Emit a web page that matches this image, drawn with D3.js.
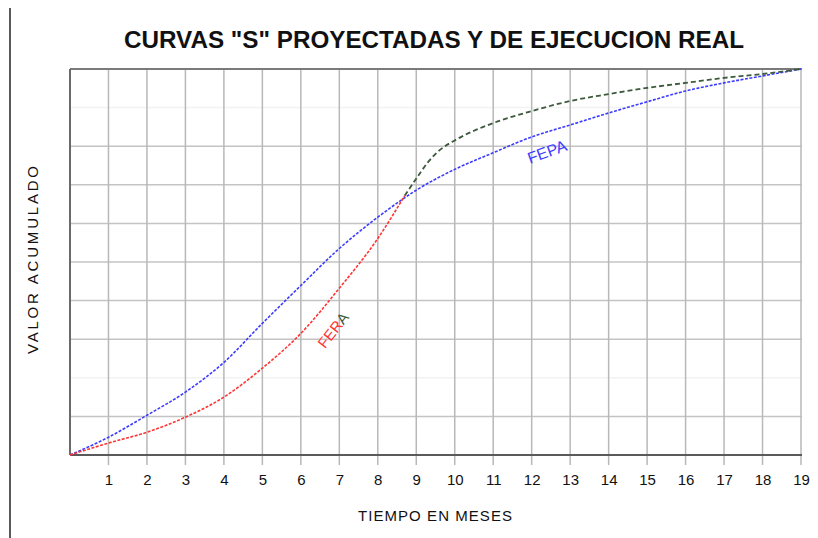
<!DOCTYPE html>
<html>
<head>
<meta charset="utf-8">
<script src="https://cdn.jsdelivr.net/npm/d3@7/dist/d3.min.js"></script>
<style>
  html, body { margin: 0; padding: 0; background: #fff; }
  svg { display: block; font-family: "Liberation Sans", Arial, sans-serif; }
</style>
</head>
<body>
<div id="chart"></div>
<script>
// Months on the x axis
const months = d3.range(0, 20);

// FEPA: projected S-curve (% of accumulated value)
const fepaMonths = [0, 1, 2, 3, 4, 5, 6, 7, 8, 9, 10, 11, 12, 13, 14, 15, 16, 17, 18, 19];
const fepaValues = [0, 4.6, 10.3, 16.3, 24.0, 34.1, 43.9, 53.5, 61.6, 68.6, 74.0, 78.3, 82.4, 85.5, 88.6, 91.5, 94.3, 96.4, 98.2, 100];

// FERA: real execution up to the cut
const feraMonths = [0, 1, 2, 3, 4, 5, 6, 7, 8, 8.7];
const feraValues = [0, 3.1, 5.9, 9.8, 15.0, 22.5, 31.5, 43.2, 56.1, 67.2];

// Re-projected continuation after the cut
const reprogMonths = [8.7, 9, 9.3, 9.6, 10, 10.5, 11, 12, 13, 14, 15, 16, 17, 18, 19];
const reprogValues = [67.2, 71.6, 75.8, 78.9, 81.5, 84.0, 86.0, 89.1, 91.7, 93.5, 95.1, 96.4, 97.7, 98.7, 100];

// Horizontal grid levels (no labels on the y axis)
const yGrid = [10, 20, 30, 40, 50, 60, 70, 80, 90];
const faintLevels = [20, 90];

const width = 818, height = 538;
const margin = { top: 69, right: 17, bottom: 83, left: 70 };

const svg = d3.select('#chart')
    .append('svg')
    .attr('width', width)
    .attr('height', height);

const x = d3.scaleLinear().domain([0, 19]).range([margin.left, width - margin.right]);
const y = d3.scaleLinear().domain([0, 100]).range([height - margin.bottom, margin.top]);

// Left page border
svg.append('line')
    .attr('x1', 10).attr('x2', 10)
    .attr('y1', 8).attr('y2', height)
    .attr('stroke', '#222')
    .attr('stroke-width', 1.5);

// Title
svg.append('text')
    .attr('x', 434)
    .attr('y', 48)
    .attr('text-anchor', 'middle')
    .attr('font-size', 24)
    .attr('font-weight', 'bold')
    .attr('textLength', 620)
    .attr('lengthAdjust', 'spacingAndGlyphs')
    .attr('fill', '#111')
    .text('CURVAS "S" PROYECTADAS Y DE EJECUCION REAL');

// Horizontal gridlines
svg.append('g')
    .selectAll('line')
    .data(yGrid)
    .join('line')
    .attr('x1', x(0)).attr('x2', x(19) + 1)
    .attr('y1', d => y(d)).attr('y2', d => y(d))
    .attr('stroke', d => faintLevels.includes(d) ? '#f2f2f2' : '#c4c4c4')
    .attr('stroke-width', 1.5);

// Vertical gridlines with tick extension
svg.append('g')
    .selectAll('line')
    .data(months.filter(m => m > 0))
    .join('line')
    .attr('x1', d => x(d)).attr('x2', d => x(d))
    .attr('y1', y(100)).attr('y2', y(0) + 10)
    .attr('stroke', '#b8b8b8')
    .attr('stroke-width', 1.5);

// Frame: top, left and bottom
svg.append('line')
    .attr('x1', x(0)).attr('x2', x(19) + 1)
    .attr('y1', y(100)).attr('y2', y(100))
    .attr('stroke', '#7a7a7a').attr('stroke-width', 2);
svg.append('line')
    .attr('x1', x(0)).attr('x2', x(0))
    .attr('y1', y(100)).attr('y2', y(0))
    .attr('stroke', '#6a6a6a').attr('stroke-width', 2);
svg.append('line')
    .attr('x1', x(0)).attr('x2', x(19) + 1)
    .attr('y1', y(0)).attr('y2', y(0))
    .attr('stroke', '#5a5a5a').attr('stroke-width', 2);

// Tick labels
const xAxis = d3.axisBottom(x)
    .tickValues(months.filter(m => m > 0))
    .tickSize(0)
    .tickPadding(0)
    .tickFormat(d3.format('d'));

const axisG = svg.append('g')
    .attr('transform', `translate(0,${y(0) + 30})`)
    .call(xAxis);
axisG.select('.domain').remove();
axisG.selectAll('text')
    .attr('dy', 0)
    .attr('font-size', 15)
    .attr('font-family', '"Liberation Sans", Arial, sans-serif')
    .attr('fill', '#111');

// Axis titles
svg.append('text')
    .attr('x', 435)
    .attr('y', 521)
    .attr('text-anchor', 'middle')
    .attr('font-size', 15)
    .attr('textLength', 154)
    .attr('lengthAdjust', 'spacing')
    .attr('fill', '#111')
    .text('TIEMPO EN MESES');

svg.append('text')
    .attr('transform', 'translate(38,260) rotate(-90)')
    .attr('text-anchor', 'middle')
    .attr('font-size', 15)
    .attr('textLength', 188)
    .attr('lengthAdjust', 'spacing')
    .attr('fill', '#111')
    .text('VALOR ACUMULADO');

// Curves
const line = d3.line()
    .x(d => x(d[0]))
    .y(d => y(d[1]))
    .curve(d3.curveMonotoneX);

const curves = [
    { m: fepaMonths, v: fepaValues, color: '#3c3cff', dash: '3,1.5', w: 1.6 },
    { m: feraMonths, v: feraValues, color: '#ff3434', dash: '3,1.5', w: 1.6 },
    { m: reprogMonths, v: reprogValues, color: '#3d5a3d', dash: '5,3', w: 1.8 }
];

svg.append('g')
    .attr('fill', 'none')
    .selectAll('path')
    .data(curves)
    .join('path')
    .attr('d', c => line(d3.zip(c.m, c.v)))
    .attr('stroke', c => c.color)
    .attr('stroke-width', c => c.w)
    .attr('stroke-dasharray', c => c.dash);

// Curve labels
svg.append('text')
    .attr('transform', `translate(${x(12.45)},${y(77.2)}) rotate(-20)`)
    .attr('text-anchor', 'middle')
    .attr('font-size', 16)
    .attr('fill', '#3c3cff')
    .text('FEPA');

const fera = svg.append('text')
    .attr('transform', `translate(${x(6.95)},${y(31.5)}) rotate(-52)`)
    .attr('text-anchor', 'middle')
    .attr('font-size', 15)
    .attr('fill', '#ff3434');
fera.append('tspan').text('FER');
fera.append('tspan').attr('fill', '#3d5a3d').text('A');
</script>
</body>
</html>
